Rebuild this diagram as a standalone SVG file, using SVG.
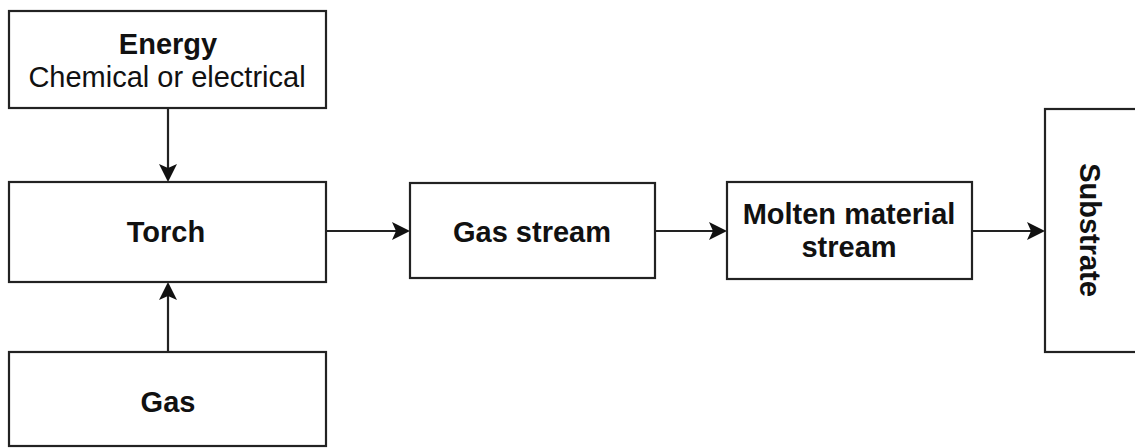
<svg xmlns="http://www.w3.org/2000/svg" width="1135" height="448" viewBox="0 0 1135 448">
<defs>
<style>
.box{fill:#fff;stroke:#222;stroke-width:2.2}
.t{font-family:"Liberation Sans",Arial,sans-serif;font-size:29px;fill:#111;text-anchor:middle}
.b{font-weight:bold}
.edge{stroke:#222;stroke-width:2.2;fill:none}
.head{fill:#111}
</style>
</defs>
<rect width="1135" height="448" fill="#fff"/>
<g id="connectors">
<path class="edge" d="M168,108 V172"/>
<path class="head" d="M159,164 L168,182 L177,164 L168,168 Z"/>
<path class="edge" d="M168,352 V292"/>
<path class="head" d="M159,300 L168,282 L177,300 L168,296 Z"/>
<path class="edge" d="M326,231 H400"/>
<path class="head" d="M392,222 L410,231 L392,240 L396,231 Z"/>
<path class="edge" d="M655,231 H717"/>
<path class="head" d="M709,222 L727,231 L709,240 L713,231 Z"/>
<path class="edge" d="M972,231 H1035"/>
<path class="head" d="M1027,222 L1045,231 L1027,240 L1031,231 Z"/>
</g>
<g id="energy">
<rect class="box" x="9" y="11" width="317" height="97"/>
<text class="t b" x="168" y="54">Energy</text>
<text class="t" x="167" y="87">Chemical or electrical</text>
</g>
<g id="torch">
<rect class="box" x="9" y="182" width="317" height="100"/>
<text class="t b" x="166" y="242">Torch</text>
</g>
<g id="gas">
<rect class="box" x="9" y="352" width="317" height="94"/>
<text class="t b" x="168" y="412">Gas</text>
</g>
<g id="gasstream">
<rect class="box" x="410" y="183" width="245" height="95"/>
<text class="t b" x="532" y="242">Gas stream</text>
</g>
<g id="molten">
<rect class="box" x="727" y="182" width="245" height="97"/>
<text class="t b" x="849" y="224">Molten material</text>
<text class="t b" x="849" y="257">stream</text>
</g>
<g id="substrate">
<rect class="box" x="1045" y="109" width="100" height="243"/>
<text class="t b" transform="translate(1080,230) rotate(90)" x="0" y="0">Substrate</text>
</g>
</svg>
